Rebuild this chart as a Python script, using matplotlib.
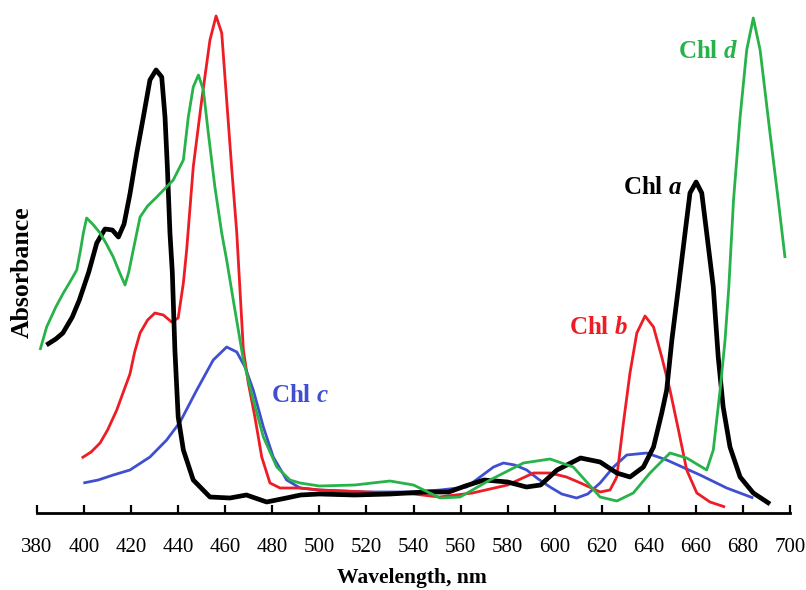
import matplotlib
matplotlib.use("Agg")
import matplotlib.pyplot as plt

plt.rcParams['font.family'] = 'Liberation Serif'
plt.rcParams['mathtext.fontset'] = 'custom'
plt.rcParams['mathtext.rm'] = 'Liberation Serif:bold'
plt.rcParams['mathtext.it'] = 'Liberation Serif:italic:bold'

# absorbance in arbitrary units

# Chl a (black)
wl_a = [384, 388, 391, 395, 398, 402, 405.4, 408.9, 412, 414.6, 417, 419.5, 422.4, 425.2,
        428, 430.6, 433, 434.4, 435.4, 436.5, 437.5, 438.6, 440, 442.2, 446.4, 453.5, 462,
        469, 477.6, 486, 492, 500, 515, 530, 545, 555, 562, 570, 580, 588, 594, 601, 611,
        619.3, 626.4, 632, 637.7, 642, 645.5, 647.6, 649.8, 652.6, 655.4, 657.5, 660.1,
        662.5, 664.6, 667.4, 669.5, 671.6, 674.5, 678.8, 684.4, 691.5]
abs_a = [167, 173, 179, 195, 212, 240, 269, 283, 282, 275, 288, 318, 359, 395,
         432, 442, 435, 395, 345, 279, 240, 162, 95, 62, 32, 15, 14,
         17, 10, 14, 17, 18, 17, 18, 20, 20, 26, 32, 30, 25, 27, 42, 54,
         50, 39, 35, 45, 65, 99, 122, 172, 225, 279, 319, 330,
         319, 279, 225, 155, 105, 65, 35, 19, 8]

# Chl b (red)
wl_b = [399, 403, 406.8, 410, 413.9, 417, 419.5, 421.5, 423.8, 427, 430.1, 433.7, 437.2,
        440, 442.2, 443.6, 446.4, 450, 453.5, 456.1, 458.5, 460.6, 462.7, 464.9, 467.7,
        469.8, 472.6, 475.5, 479, 483.3, 491.8, 500, 520, 540, 551, 565, 580, 591, 598,
        605, 611, 619.3, 623.5, 626.4, 629.2, 632, 634.9, 638.4, 642, 645.5, 649, 652.6,
        656.1, 660.4, 666, 672.4]
abs_b = [54, 60, 69, 82, 102, 122, 138, 160, 179, 192, 199, 197, 190,
         194, 229, 262, 345, 412, 472, 496, 479, 412, 345, 279, 162,
         129, 95, 55, 29, 24, 24, 22, 20, 18, 15, 19, 27, 39, 39,
         35, 29, 20, 22, 35, 89, 139, 179, 196, 185, 155, 122, 82,
         42, 19, 10, 5]

# Chl c (blue)
wl_c = [399.7, 406, 412.4, 419.5, 428, 435.1, 440.8, 447.9, 454.9, 460.6, 464.9, 468.4,
        471.9, 476.2, 480.4, 486.1, 491.8, 500, 520, 540, 551.3, 562.6, 570, 574, 578.2,
        583, 588.1, 593, 598, 603, 609.3, 614, 619.3, 625, 630.6, 639.1, 647.6, 661.8,
        673.1, 684.4]
abs_c = [29, 32, 37, 42, 55, 72, 90, 122, 152, 165, 160, 145,
         122, 85, 55, 32, 24, 22, 20, 20, 22, 25, 38, 45, 49,
         47, 42, 33, 25, 18, 14, 18, 29, 45, 57, 59, 52, 37,
         24, 14]

# Chl d (green)
wl_d = [381.3, 384.1, 388, 391.2, 394, 396.9, 398.5, 399.7, 401.1, 404, 406.8, 409.5,
        412.4, 415, 417.4, 419, 420.9, 423.8, 427, 430.9, 437.9, 442.2, 444.3, 446.4,
        448.6, 450.7, 452.8, 455.6, 458.5, 460.6, 463.4, 467.7, 471.9, 476.2, 481.9,
        487.5, 491.8, 500, 515, 530, 540, 551.3, 559.8, 572.5, 586.7, 598, 607.9, 619.3,
        626.4, 633.4, 640.5, 649, 656.1, 664.6, 667.4, 670.3, 672.4, 674, 676, 678.8,
        681.6, 684.4, 687.3, 691.5, 695, 697.9]
abs_d = [162, 185, 205, 219, 230, 242, 262, 279, 294, 287, 279, 268,
         255, 240, 227, 240, 262, 295, 306, 315, 332, 352, 395, 425,
         437, 422, 379, 325, 279, 252, 212, 152, 112, 75, 45,
         32, 29, 26, 27, 31, 27, 14, 15, 32, 49, 53, 45, 15,
         11, 19, 39, 59, 54, 42, 62, 122, 172, 225, 312, 395,
         462, 494, 462, 379, 312, 254]

xticks = list(range(380, 701, 20))

fig = plt.figure(figsize=(8.06, 5.90), dpi=100)
ax = fig.add_axes([37 / 806, 1 - 513 / 590, 753 / 806, 503 / 590])

kw = dict(solid_joinstyle='round', solid_capstyle='butt')
ax.plot(wl_c, abs_c, color='#3f4fd0', lw=2.0, **kw)
ax.plot(wl_b, abs_b, color='#ee1c25', lw=2.0, **kw)
ax.plot(wl_a, abs_a, color='black', lw=3.4, **kw)
ax.plot(wl_d, abs_d, color='#27b24a', lw=2.0, **kw)

ax.text(654, 324, 'Chl $a$', color='black', fontsize=18, fontweight='bold',
        ha='right', va='center')
ax.text(631, 184, 'Chl $b$', color='#ee1c25', fontsize=18, fontweight='bold',
        ha='right', va='center')
ax.text(479.5, 117, 'Chl $c$', color='#3f4fd0', fontsize=18, fontweight='bold',
        ha='left', va='center')
ax.text(678, 460, 'Chl $d$', color='#27b24a', fontsize=18, fontweight='bold',
        ha='right', va='center')

ax.set_xlim(380, 700)
ax.set_ylim(-1, 502)
ax.set_xticks(xticks)
ax.set_yticks([])
for s in ['top', 'right', 'left']:
    ax.spines[s].set_visible(False)
ax.spines['bottom'].set_linewidth(2)
ax.tick_params(axis='x', direction='in', length=6, width=1.6, labelsize=15, pad=18)

fig.text(412 / 806, 1 - 578 / 590, 'Wavelength, nm', ha='center', va='center',
         fontsize=15.5, fontweight='bold')
fig.text(22 / 806, 1 - 272 / 590, 'Absorbance', ha='center', va='center',
         rotation=90, fontsize=18.5, fontweight='bold')

fig.savefig('out.png', dpi=100)
